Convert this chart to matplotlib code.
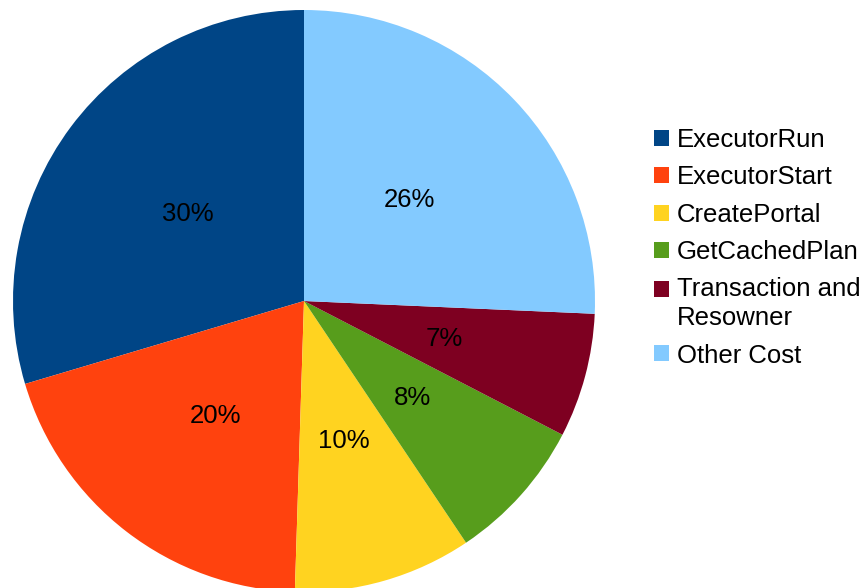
import matplotlib.pyplot as plt
from matplotlib.legend_handler import HandlerPatch
from matplotlib.patches import Rectangle

# cost breakdown (percent of total)
labels = ["ExecutorRun", "ExecutorStart", "CreatePortal", "GetCachedPlan",
          "Transaction and\nResowner", "Other Cost"]
shares = [29.6, 19.9, 9.9, 8.0, 6.9, 25.7]
colors = ["#004586", "#ff420e", "#ffd320", "#579d1c", "#7e0021", "#83caff"]

plt.rcParams["font.family"] = ["Liberation Sans", "DejaVu Sans"]
FS = 18.5

W, H = 861, 588
fig = plt.figure(figsize=(W / 100, H / 100), dpi=100)
fig.patch.set_facecolor("white")

# pie centre and radius in pixels
cx, cy, r = 304, 301, 291
ax = fig.add_axes([(cx - r) / W, (H - cy - r) / H, 2 * r / W, 2 * r / H])

wedges, _, autotexts = ax.pie(
    shares,
    colors=colors,
    startangle=90,
    counterclock=True,
    autopct="%.0f%%",
    pctdistance=0.5,
    wedgeprops={"linewidth": 0},
    textprops={"fontsize": FS, "color": "black"},
)
ax.set_xlim(-1, 1)
ax.set_ylim(-1, 1)
ax.set_aspect("equal")
ax.axis("off")


def first_line_square(legend, orig_handle, xdescent, ydescent, width, height, fontsize):
    # keep the swatch next to the first line of a two-line label
    return Rectangle((-xdescent, -ydescent + 0.58 * fontsize), width, height)


leg = fig.legend(
    wedges, labels,
    loc="upper left",
    bbox_to_anchor=(654 / W, 1 - 128 / H),
    frameon=False,
    fontsize=FS,
    handlelength=0.58,
    handleheight=0.58,
    handletextpad=0.31,
    labelspacing=0.52,
    borderaxespad=0,
    borderpad=0,
    handler_map={wedges[4]: HandlerPatch(patch_func=first_line_square)},
)
for t in leg.get_texts():
    t.set_linespacing(1.25)

fig.savefig("out.png", dpi=100, facecolor="white")
